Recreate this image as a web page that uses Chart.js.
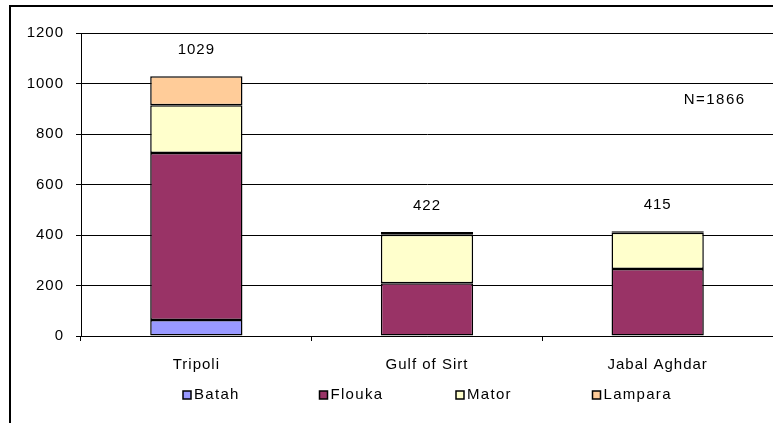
<!DOCTYPE html>
<html>
<head>
<meta charset="utf-8">
<script src="https://cdn.jsdelivr.net/npm/chart.js@4/dist/chart.umd.min.js"></script>
<style>
  html, body { margin: 0; padding: 0; background: #fff; overflow: hidden; }
  #wrap { position: relative; width: 773px; height: 423px; }
  #frame { position: absolute; left: 9px; top: 5px; width: 900px; height: 600px; border: 2px solid #000; box-sizing: border-box; }
  canvas { position: absolute; left: 0; top: 0; }
</style>
</head>
<body>
<div id="wrap">
  <div id="frame"></div>
  <canvas id="c" width="773" height="423"></canvas>
</div>
<script>
const categories = ['Tripoli', 'Gulf of Sirt', 'Jabal Aghdar'];
const batah   = [63, 0, 0];
const flouka  = [662, 209, 265];
const mator   = [189, 192, 144];
const lampara = [115, 11, 6];
const totalLabels = ['1029', '422', '415'];
const noteText = 'N=1866';
const yTicks = [0, 200, 400, 600, 800, 1000, 1200];

const FONT = "'Liberation Sans', Arial, sans-serif";

const spacingPlugin = {
  id: 'spacing',
  beforeInit(chart) { chart.ctx.letterSpacing = '1px'; },
  beforeUpdate(chart) { chart.ctx.letterSpacing = '1px'; },
  beforeDraw(chart) { chart.ctx.letterSpacing = '1px'; }
};

const totalsPlugin = {
  id: 'totals',
  afterDatasetsDraw(chart) {
    const ctx = chart.ctx;
    const y = chart.scales.y, x = chart.scales.x;
    ctx.save();
    ctx.letterSpacing = '1px';
    ctx.font = '15px ' + FONT;
    ctx.fillStyle = '#000';
    ctx.textAlign = 'center';
    ctx.textBaseline = 'middle';
    categories.forEach((c, i) => {
      let sum = 0;
      chart.data.datasets.forEach(ds => sum += ds.data[i]);
      ctx.fillText(totalLabels[i], x.getPixelForValue(i), y.getPixelForValue(sum) - 26);
    });
    // note
    ctx.letterSpacing = '1.5px';
    ctx.fillText(noteText, x.getPixelForValue(2) + 57, y.getPixelForValue(1000) + 16);
    ctx.letterSpacing = '1.3px';
    // legend
    const items = chart.data.datasets;
    const ly = 395;
    items.forEach((ds, i) => {
      const lx = 183 + i * 136.5;
      ctx.fillStyle = ds.backgroundColor;
      ctx.fillRect(lx, ly - 4, 8, 8);
      ctx.strokeStyle = '#000';
      ctx.lineWidth = 1.5;
      ctx.strokeRect(lx, ly - 4, 8, 8);
      ctx.fillStyle = '#000';
      ctx.textAlign = 'left';
      ctx.fillText(ds.label, lx + 11, ly);
    });
    ctx.restore();
  }
};

const mk = (label, data, color) => ({
  label, data, backgroundColor: color, borderColor: '#000', borderWidth: 1.5, borderSkipped: false,
  categoryPercentage: 1.0, barPercentage: 0.4
});

new Chart(document.getElementById('c'), {
  type: 'bar',
  data: {
    labels: categories,
    datasets: [
      mk('Batah', batah, '#9999FF'),
      mk('Flouka', flouka, '#993366'),
      mk('Mator', mator, '#FFFFCC'),
      mk('Lampara', lampara, '#FFCC99')
    ]
  },
  options: {
    responsive: false,
    animation: false,
    devicePixelRatio: 1,
    layout: { padding: { left: 0, right: 0, top: 33, bottom: 47 } },
    plugins: { legend: { display: false }, tooltip: { enabled: false } },
    scales: {
      x: {
        stacked: true,
        afterFit(s) { s.height = 40; },
        grid: { display: true, drawOnChartArea: false, drawTicks: true, tickLength: 5, color: '#000', offset: true },
        border: { display: true, color: '#000', width: 1 },
        ticks: { color: '#000', font: { family: FONT, size: 15 }, padding: 15, maxRotation: 0 }
      },
      y: {
        stacked: true,
        min: 0, max: 1200,
        afterFit(s) { s.width = 81; },
        afterBuildTicks(s) { s.ticks = yTicks.map(v => ({ value: v })); },
        grid: { color: '#000', lineWidth: 1, tickLength: 5, drawTicks: true },
        border: { display: true, color: '#000', width: 1 },
        ticks: { color: '#000', font: { family: FONT, size: 15 }, padding: 12, callback: v => String(v) }
      }
    }
  },
  plugins: [spacingPlugin, totalsPlugin]
});
</script>
</body>
</html>
